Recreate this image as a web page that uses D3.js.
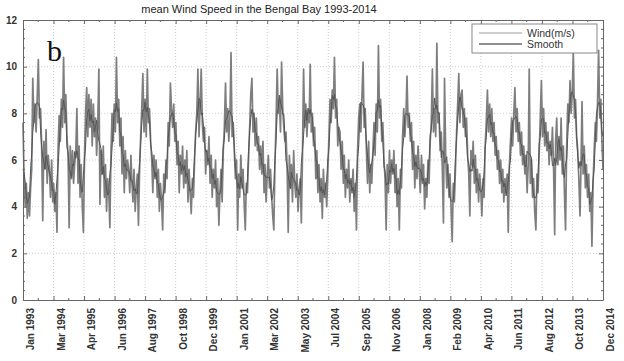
<!DOCTYPE html>
<meta charset="utf-8">
<title>Bengal Bay wind</title>
<style>

body {
  margin: 0px;
  background: #fff;
}

svg {
  display: block;
  font-family: "Liberation Sans", Arial, sans-serif;
}

.grid line {
  stroke: #cfcfcf;
  stroke-dasharray: 1,2;
}

</style>
<body>
<script src="https://cdn.jsdelivr.net/npm/d3@7"></script>
<script>

var width = 624, height = 361;

// years covered, one row of semi-monthly wind speed (m/s) per year
var years = d3.range(1993, 2015);

var windValues = [
  [7.6, 5.2, 4.0, 5.0, 3.5, 4.6, 3.6, 4.8, 5.6, 9.5, 7.6, 8.4, 7.2, 8.6, 10.3, 7.8, 8.2, 6.6, 3.4, 6.8, 5.6, 7.3, 5.0, 6.2],
  [5.6, 4.4, 6.0, 4.2, 5.0, 3.8, 4.6, 2.9, 6.5, 7.9, 6.8, 8.6, 7.4, 10.4, 7.6, 8.8, 7.0, 6.2, 3.1, 6.6, 5.2, 6.4, 5.0, 5.8],
  [6.4, 8.2, 5.0, 6.6, 4.4, 5.8, 4.0, 2.9, 6.0, 8.0, 9.1, 7.0, 8.8, 7.4, 8.6, 6.6, 8.4, 7.0, 7.8, 6.2, 7.6, 9.9, 4.1, 6.4],
  [5.4, 6.6, 4.4, 5.8, 3.8, 5.2, 4.6, 3.1, 6.2, 8.0, 6.8, 8.4, 7.2, 10.4, 7.6, 8.6, 6.6, 7.8, 5.4, 7.0, 4.6, 6.4, 5.2, 6.0],
  [5.6, 4.6, 6.2, 5.0, 4.2, 5.6, 3.8, 4.8, 5.4, 3.2, 5.6, 7.0, 8.2, 9.7, 7.2, 8.6, 7.0, 9.9, 7.6, 8.2, 6.8, 6.0, 4.6, 6.2],
  [5.2, 6.0, 4.4, 5.6, 3.8, 5.0, 4.2, 3.0, 5.4, 4.6, 6.0, 5.2, 7.6, 6.6, 9.3, 8.2, 7.4, 8.4, 6.8, 7.6, 5.8, 6.8, 4.6, 6.2],
  [5.4, 6.6, 4.8, 6.0, 5.0, 6.4, 4.2, 5.6, 4.6, 3.7, 5.2, 4.4, 6.0, 7.2, 8.0, 9.9, 7.0, 8.4, 9.9, 7.6, 6.8, 7.4, 5.4, 6.4],
  [5.8, 7.0, 5.0, 6.2, 4.4, 5.6, 4.8, 6.0, 4.0, 5.2, 3.2, 4.6, 5.6, 4.2, 6.4, 7.4, 9.3, 7.2, 8.2, 6.8, 7.8, 10.6, 7.0, 7.6],
  [6.4, 5.2, 6.0, 3.0, 5.4, 4.4, 6.2, 4.8, 5.6, 4.2, 3.0, 5.0, 4.6, 6.0, 7.4, 8.8, 9.5, 7.2, 8.0, 6.6, 7.8, 6.4, 7.0, 5.6],
  [6.6, 5.4, 6.8, 4.6, 5.8, 4.2, 5.4, 6.2, 4.8, 5.6, 4.4, 3.6, 3.0, 5.8, 7.6, 9.9, 8.0, 8.6, 7.2, 10.2, 8.2, 7.4, 6.8, 7.2],
  [5.6, 2.9, 6.2, 4.8, 5.8, 4.2, 6.4, 5.0, 4.4, 5.4, 3.8, 4.8, 5.2, 3.3, 6.2, 9.9, 7.4, 8.4, 7.0, 8.0, 7.6, 10.1, 7.2, 8.0],
  [6.6, 7.4, 5.2, 6.4, 4.6, 5.8, 4.2, 5.2, 3.5, 5.6, 4.4, 5.0, 4.0, 5.4, 7.0, 8.6, 7.6, 9.0, 8.2, 10.4, 7.8, 8.6, 6.6, 7.4],
  [7.2, 5.6, 6.8, 5.0, 6.2, 4.4, 5.6, 4.8, 6.0, 4.2, 5.2, 4.6, 5.6, 3.8, 5.0, 3.0, 6.4, 7.8, 8.4, 7.2, 8.8, 10.2, 7.4, 8.2],
  [6.4, 5.0, 6.8, 4.6, 5.8, 5.0, 6.4, 7.6, 6.2, 8.4, 7.2, 10.9, 7.8, 8.6, 6.8, 7.6, 6.0, 5.2, 3.0, 5.8, 4.6, 6.4, 5.0, 6.0],
  [5.4, 6.4, 4.6, 5.8, 4.0, 5.2, 3.0, 5.6, 4.8, 7.0, 8.2, 7.0, 7.8, 9.6, 7.4, 8.0, 6.8, 7.6, 5.6, 6.8, 4.8, 6.2, 5.2, 6.6],
  [5.6, 4.6, 6.2, 5.0, 5.8, 3.9, 5.2, 4.4, 6.0, 5.0, 6.8, 7.6, 9.9, 7.2, 8.2, 7.0, 11.0, 7.6, 8.0, 6.4, 7.2, 5.6, 3.3, 9.5],
  [6.2, 4.8, 5.8, 4.4, 5.4, 4.0, 2.5, 5.0, 4.2, 5.6, 7.2, 8.4, 9.7, 7.6, 8.8, 9.0, 7.4, 8.2, 7.0, 7.8, 6.2, 5.4, 3.6, 6.4],
  [5.8, 6.8, 5.0, 6.2, 4.6, 5.6, 4.2, 5.4, 4.8, 3.6, 5.2, 4.4, 6.6, 7.6, 9.0, 7.2, 8.4, 7.0, 8.2, 6.8, 7.6, 6.2, 7.0, 5.6],
  [6.4, 5.0, 6.0, 4.6, 5.6, 4.2, 5.2, 4.6, 5.4, 2.9, 5.8, 6.8, 7.8, 6.6, 8.0, 9.1, 7.2, 8.2, 6.8, 7.6, 6.2, 7.2, 5.8, 6.6],
  [5.4, 6.2, 4.6, 5.8, 9.9, 5.0, 6.0, 4.4, 5.2, 3.8, 3.0, 5.4, 4.6, 6.2, 7.8, 9.4, 7.0, 8.2, 6.6, 7.6, 6.4, 7.2, 5.8, 6.8],
  [6.2, 7.4, 5.6, 2.8, 6.8, 7.8, 5.8, 7.0, 6.0, 7.8, 5.4, 6.6, 4.6, 3.0, 6.6, 8.4, 7.6, 9.4, 8.0, 8.8, 10.6, 7.8, 8.6, 7.0],
  [6.4, 5.2, 3.6, 6.0, 8.5, 5.4, 6.6, 4.8, 5.8, 4.4, 5.4, 3.8, 4.6, 2.3, 5.0, 6.4, 7.6, 6.8, 8.4, 10.7, 7.8, 8.6, 6.8, 5.6]
];

var tickLabels = ["Jan 1993", "Mar 1994", "Apr 1995", "Jun 1996", "Aug 1997", "Oct 1998",
  "Dec 1999", "Jan 2001", "Mar 2002", "May 2003", "Jul 2004", "Sep 2005", "Nov 2006",
  "Jan 2008", "Feb 2009", "Apr 2010", "Jun 2011", "Aug 2012", "Oct 2013", "Dec 2014"];

var yTicks = [0, 2, 4, 6, 8, 10, 12];

var seriesNames = ["Wind(m/s)", "Smooth"];

// flatten into dated points
var wind = [];
years.forEach(function(yr, i) {
  windValues[i].forEach(function(v, k) {
    wind.push({ date: new Date(yr, Math.floor(k / 2), k % 2 ? 16 : 1), value: v });
  });
});

// centred running mean for the smooth curve
var smooth = wind.map(function(d, i) {
  var win = wind.slice(Math.max(0, i - 2), i + 3);
  return { date: d.date, value: d3.mean(win, function(e) { return e.value; }) };
});

var plotL = 23, plotR = 603, plotT = 20, plotB = 300;

var x = d3.scaleTime()
    .domain([wind[0].date, wind[wind.length - 1].date])
    .range([plotL, plotR]);

var y = d3.scaleLinear()
    .domain([0, 12])
    .range([plotB, plotT]);

var t0 = +x.domain()[0], t1 = +x.domain()[1];
var xTicks = tickLabels.map(function(t, i) {
  return new Date(t0 + i * (t1 - t0) / (tickLabels.length - 1));
});

var svg = d3.select("body").append("svg")
    .attr("width", width)
    .attr("height", height);

// grid
var grid = svg.append("g").attr("class", "grid");
grid.selectAll("line.gx")
    .data(xTicks.slice(1, -1))
  .enter().append("line")
    .attr("x1", function(d) { return x(d); })
    .attr("x2", function(d) { return x(d); })
    .attr("y1", plotT)
    .attr("y2", plotB);
grid.selectAll("line.gy")
    .data(yTicks.slice(1, -1))
  .enter().append("line")
    .attr("x1", plotL)
    .attr("x2", plotR)
    .attr("y1", function(d) { return y(d); })
    .attr("y2", function(d) { return y(d); });

// lines
var line = d3.line()
    .x(function(d) { return x(d.date); })
    .y(function(d) { return y(d.value); });

svg.append("path")
    .datum(wind)
    .attr("fill", "none")
    .attr("stroke", "#7e7e7e")
    .attr("stroke-width", 1.7)
    .attr("stroke-linejoin", "round")
    .attr("d", line);

svg.append("path")
    .datum(smooth)
    .attr("fill", "none")
    .attr("stroke", "#555")
    .attr("stroke-width", 1)
    .attr("d", line);

// minor ticks
var minorX = xTicks.slice(0, -1).map(function(d, i) {
  return new Date((+d + +xTicks[i + 1]) / 2);
});
var minorY = d3.range(0.4, 12, 0.4).filter(function(v) { return Math.abs(v / 2 - Math.round(v / 2)) > 0.01; });

var ticks = svg.append("g").attr("stroke", "#666").attr("stroke-width", 1);
minorX.forEach(function(d) {
  ticks.append("line").attr("x1", x(d)).attr("x2", x(d)).attr("y1", plotB).attr("y2", plotB - 2);
  ticks.append("line").attr("x1", x(d)).attr("x2", x(d)).attr("y1", plotT).attr("y2", plotT + 2);
});
minorY.forEach(function(v) {
  ticks.append("line").attr("x1", plotL).attr("x2", plotL + 2).attr("y1", y(v)).attr("y2", y(v));
  ticks.append("line").attr("x1", plotR).attr("x2", plotR - 2).attr("y1", y(v)).attr("y2", y(v));
});

// axes
var xAxis = svg.append("g")
    .attr("transform", "translate(0," + plotB + ")")
    .call(d3.axisBottom(x).tickValues(xTicks)
      .tickFormat(function(d, i) { return tickLabels[i]; })
      .tickSizeInner(-4).tickSizeOuter(0));
xAxis.selectAll("text")
    .attr("transform", "rotate(-90)")
    .attr("x", -8)
    .attr("y", 7)
    .attr("dy", "0.35em")
    .style("text-anchor", "end")
    .attr("font-size", "10px")
    .attr("font-weight", "bold")
    .attr("fill", "#333");

var yAxis = svg.append("g")
    .attr("transform", "translate(" + plotL + ",0)")
    .call(d3.axisLeft(y).tickValues(yTicks).tickSizeInner(-4).tickSizeOuter(0).tickPadding(6));
yAxis.selectAll("text").attr("font-size", "10px").attr("font-weight", "bold").attr("fill", "#333");

svg.append("g")
    .attr("transform", "translate(0," + plotT + ")")
    .call(d3.axisTop(x).tickValues(xTicks).tickFormat("").tickSizeInner(-4).tickSizeOuter(0));
svg.append("g")
    .attr("transform", "translate(" + plotR + ",0)")
    .call(d3.axisRight(y).tickValues(yTicks).tickFormat("").tickSizeInner(-4).tickSizeOuter(0));

svg.selectAll(".domain, .tick line").attr("stroke", "#666");

// title
svg.append("text")
    .attr("x", 259)
    .attr("y", 12.5)
    .attr("text-anchor", "middle")
    .attr("font-size", "11px")
    .attr("fill", "#222")
    .text("mean Wind Speed in the Bengal Bay 1993-2014");

// panel letter
svg.append("text")
    .attr("x", 47)
    .attr("y", 61)
    .attr("font-family", "'Liberation Serif', 'Times New Roman', serif")
    .attr("font-size", "30px")
    .attr("fill", "#111")
    .text("b");

// legend
var legend = svg.append("g");
legend.append("rect")
    .attr("x", 472).attr("y", 24)
    .attr("width", 125).attr("height", 29)
    .attr("fill", "#fff")
    .attr("stroke", "#888");
var legendColors = ["#bdbdbd", "#6a6a6a"];
seriesNames.forEach(function(name, i) {
  var ly = 33 + i * 11;
  legend.append("line")
      .attr("x1", 479).attr("x2", 522)
      .attr("y1", ly).attr("y2", ly)
      .attr("stroke", legendColors[i])
      .attr("stroke-width", 1.5);
  legend.append("text")
      .attr("x", 527).attr("y", ly)
      .attr("dy", "0.35em")
      .attr("font-size", "10.5px")
      .attr("fill", "#333")
      .text(name);
});

</script>
